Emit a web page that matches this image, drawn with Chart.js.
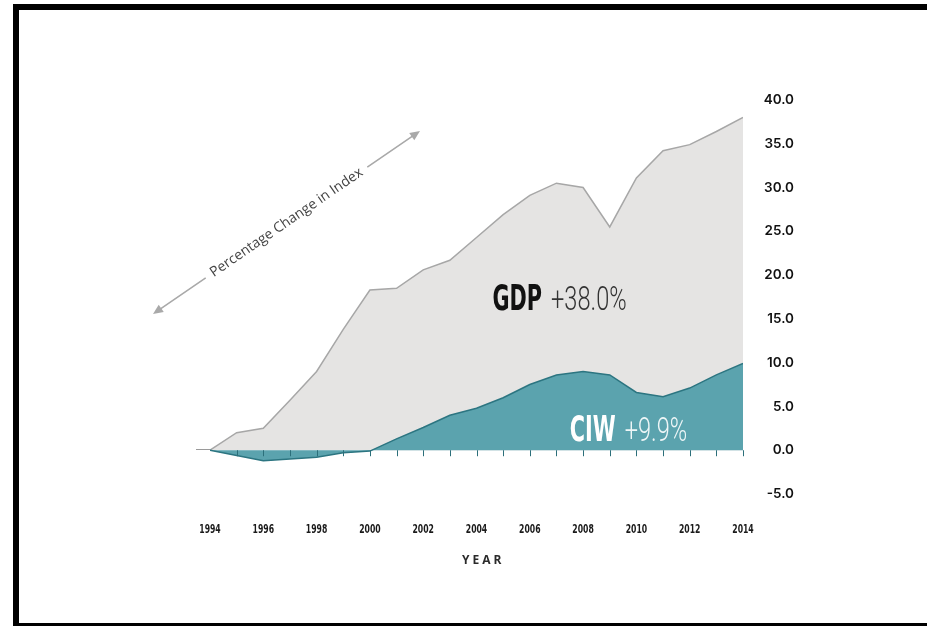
<!DOCTYPE html>
<html lang="en">
<head>
    <meta charset="UTF-8">
    <title>GDP vs CIW, 1994-2014</title>
    <script src="https://cdn.jsdelivr.net/npm/chart.js"></script>
    <style>
        html, body { margin: 0; padding: 0; background: #fff; overflow: hidden; }
        #wrap { position: relative; width: 927px; height: 626px; }
        #frame {
            position: absolute; left: 13px; top: 4px; width: 1000px; height: 625px;
            box-sizing: border-box;
            border-top: 6px solid #000; border-left: 6px solid #000; border-bottom: 6px solid #000;
            pointer-events: none;
        }
        canvas { position: absolute; left: 0; top: 0; }
    </style>
</head>
<body>
    <div id="wrap">
        <canvas id="chart" width="927" height="626"></canvas>
        <div id="frame"></div>
    </div>

    <script>
        // Percentage change in each index since 1994
        const years = [1994, 1995, 1996, 1997, 1998, 1999, 2000, 2001, 2002, 2003, 2004,
                       2005, 2006, 2007, 2008, 2009, 2010, 2011, 2012, 2013, 2014];
        const gdp = [0, 2.0, 2.5, 5.7, 9.0, 13.8, 18.3, 18.5, 20.6, 21.7, 24.3,
                     26.9, 29.1, 30.5, 30.0, 25.5, 31.1, 34.2, 34.9, 36.4, 38.0];
        const ciw = [0, -0.6, -1.2, -1.0, -0.8, -0.3, -0.1, 1.3, 2.6, 4.0, 4.8,
                     6.0, 7.5, 8.6, 9.0, 8.6, 6.6, 6.1, 7.1, 8.6, 9.9];
        const yearTicks = [1994, 1996, 1998, 2000, 2002, 2004, 2006, 2008, 2010, 2012, 2014];
        const valueTicks = [-5, 0, 5, 10, 15, 20, 25, 30, 35, 40];

        const narrow = "'Liberation Sans Narrow', 'DejaVu Sans Condensed', 'DejaVu Sans', sans-serif";

        const pct = v => (v >= 0 ? "+" : "") + v.toFixed(1) + "%";

        // condensed text: squeeze horizontally
        function squeezed(ctx, text, x, y, sx) {
            ctx.save();
            ctx.translate(x, y);
            ctx.scale(sx, 1);
            ctx.fillText(text, 0, 0);
            ctx.restore();
        }

        // two-part label: bold name followed by a light percentage
        function drawLabel(ctx, x, y, name, value, nameColor, valueColor) {
            ctx.save();
            ctx.textBaseline = "alphabetic";
            ctx.textAlign = "left";
            ctx.translate(x, y);
            ctx.scale(0.66, 1);
            ctx.font = "bold 35px " + narrow;
            ctx.fillStyle = nameColor;
            ctx.fillText(name, 0, 0);
            const w = ctx.measureText(name).width;
            ctx.scale(1.05, 1);
            ctx.font = "300 34px Roboto, 'Open Sans', sans-serif";
            ctx.fillStyle = valueColor;
            ctx.fillText(value, w / 1.05 + 13, 0);
            ctx.restore();
        }

        function arrowHead(ctx, x, y, angle) {
            ctx.save();
            ctx.translate(x, y);
            ctx.rotate(angle);
            ctx.beginPath();
            ctx.moveTo(0, 0);
            ctx.lineTo(-10, -4.5);
            ctx.lineTo(-10, 4.5);
            ctx.closePath();
            ctx.fill();
            ctx.restore();
        }

        const decorations = {
            id: "decorations",
            beforeDatasetsDraw(chart) {
                const { ctx, chartArea, scales: { y } } = chart;
                const y0 = Math.round(y.getPixelForValue(0)) - 0.5;
                ctx.save();
                ctx.strokeStyle = "#9a9a9a";
                ctx.lineWidth = 1;
                ctx.beginPath();
                ctx.moveTo(chartArea.left - 14, y0);
                ctx.lineTo(chartArea.right, y0);
                ctx.stroke();
                ctx.restore();
            },
            afterDatasetsDraw(chart) {
                const { ctx, chartArea, scales: { x, y } } = chart;
                const y0 = y.getPixelForValue(0);

                // year tick marks hanging from the zero line
                ctx.save();
                ctx.strokeStyle = "#2c6f7a";
                ctx.lineWidth = 1;
                ctx.beginPath();
                years.slice(1).forEach(yr => {
                    const px = Math.round(x.getPixelForValue(yr)) + 0.5;
                    ctx.moveTo(px, y0);
                    ctx.lineTo(px, y0 + 6);
                });
                ctx.stroke();
                ctx.restore();

                // year labels in a condensed bold face
                ctx.save();
                ctx.font = "bold 13px " + narrow;
                ctx.fillStyle = "#1a1a1a";
                ctx.textAlign = "center";
                ctx.textBaseline = "middle";
                x.ticks.forEach(t => {
                    squeezed(ctx, String(t.value), x.getPixelForValue(t.value), chartArea.bottom + 36, 0.66);
                });
                ctx.restore();

                // series labels
                drawLabel(ctx, x.getPixelForValue(2004.6), y.getPixelForValue(16),
                          "GDP", pct(gdp[gdp.length - 1]), "#111", "#333");
                drawLabel(ctx, x.getPixelForValue(2007.5), y.getPixelForValue(1.1),
                          "CIW", pct(ciw[ciw.length - 1]), "#fff", "#eef6f7");

                // axis title
                ctx.save();
                ctx.font = "bold 12px 'Open Sans', sans-serif";
                ctx.letterSpacing = "3px";
                ctx.fillStyle = "#2a2a2a";
                ctx.textAlign = "center";
                ctx.textBaseline = "middle";
                ctx.fillText("YEAR", x.getPixelForValue(2004.2) + 1.5, 561);
                ctx.restore();

                // diagonal "Percentage Change in Index" with arrows
                const ax0 = 153, ay0 = 314, ax1 = 420, ay1 = 131;
                const ang = Math.atan2(ay1 - ay0, ax1 - ax0);
                const cx = (ax0 + ax1) / 2, cy = (ay0 + ay1) / 2;
                const half = Math.hypot(ax1 - ax0, ay1 - ay0) / 2;
                ctx.save();
                ctx.translate(cx, cy);
                ctx.rotate(ang);
                ctx.font = "14px 'Open Sans', sans-serif";
                ctx.fillStyle = "#444";
                ctx.textAlign = "center";
                ctx.textBaseline = "middle";
                ctx.fillText("Percentage Change in Index", 0, 0);
                const tw = ctx.measureText("Percentage Change in Index").width / 2 + 7;
                ctx.strokeStyle = "#a9a9a9";
                ctx.fillStyle = "#a9a9a9";
                ctx.lineWidth = 1.6;
                ctx.beginPath();
                ctx.moveTo(-half + 6, 0);
                ctx.lineTo(-tw, 0);
                ctx.moveTo(tw, 0);
                ctx.lineTo(half - 6, 0);
                ctx.stroke();
                arrowHead(ctx, -half, 0, Math.PI);
                arrowHead(ctx, half, 0, 0);
                ctx.restore();
            }
        };

        function drawChart() {
            const ctx = document.getElementById("chart").getContext("2d");
            new Chart(ctx, {
                type: "line",
                data: {
                    datasets: [
                        {
                            label: "CIW",
                            data: years.map((yr, i) => ({ x: yr, y: ciw[i] })),
                            borderColor: "#2c7581",
                            borderWidth: 1.5,
                            backgroundColor: "#5ba3ae",
                            fill: "origin",
                            pointRadius: 0,
                            tension: 0,
                            order: 0
                        },
                        {
                            label: "GDP",
                            data: years.map((yr, i) => ({ x: yr, y: gdp[i] })),
                            borderColor: "#a7a7a7",
                            borderWidth: 1.5,
                            backgroundColor: "#e5e4e3",
                            fill: "origin",
                            pointRadius: 0,
                            tension: 0,
                            order: 1
                        }
                    ]
                },
                options: {
                    responsive: false,
                    animation: false,
                    layout: { padding: { left: 210, top: 100, right: 133, bottom: 82 } },
                    plugins: {
                        legend: { display: false },
                        tooltip: { enabled: false }
                    },
                    scales: {
                        x: {
                            type: "linear",
                            min: 1994,
                            max: 2014,
                            grid: { display: false, drawTicks: false },
                            border: { display: false },
                            afterBuildTicks: s => { s.ticks = yearTicks.map(v => ({ value: v })); },
                            afterFit: s => { s.height = 50; },
                            ticks: { display: false }
                        },
                        y: {
                            position: "right",
                            min: -5,
                            max: 40,
                            grid: { display: false, drawTicks: false },
                            border: { display: false },
                            afterBuildTicks: s => { s.ticks = valueTicks.map(v => ({ value: v })); },
                            afterFit: s => { s.width = 51; },
                            ticks: {
                                padding: 21,
                                crossAlign: "far",
                                color: "#111",
                                font: { family: "Inter, 'DejaVu Sans', sans-serif", size: 13.5, weight: "600" },
                                callback: v => v.toFixed(1)
                            }
                        }
                    }
                },
                plugins: [decorations]
            });
        }

        // make sure the local faces are ready before the canvas is painted
        const faces = [
            "bold 35px 'Liberation Sans Narrow'", "bold 13px 'DejaVu Sans Condensed'",
            "bold 13px 'DejaVu Sans'", "300 34px Roboto", "14px 'Open Sans'",
            "bold 12px 'Open Sans'", "600 13.5px Inter"
        ];
        Promise.all(faces.map(f => document.fonts.load(f).catch(() => null)))
            .then(drawChart, drawChart);
    </script>
</body>
</html>
